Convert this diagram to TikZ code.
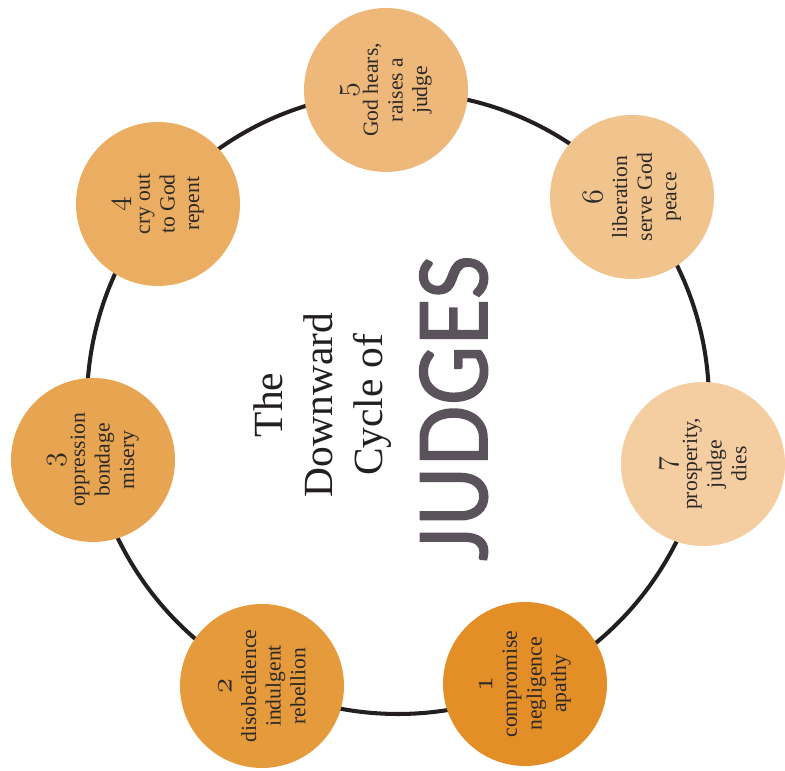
\documentclass[tikz,border=0pt]{standalone}
\usepackage{fontspec}
\setmainfont{Liberation Serif}
\newfontfamily\judgesfont{Lato}[FakeStretch=0.87, FakeBold=1.6]
\usepackage{xcolor}
\definecolor{compromise}{RGB}{227,142,39}
\definecolor{disobedience}{RGB}{229,155,60}
\definecolor{oppression}{RGB}{232,165,81}
\definecolor{cryout}{RGB}{235,173,98}
\definecolor{godhears}{RGB}{238,184,122}
\definecolor{liberation}{RGB}{241,195,141}
\definecolor{prosperity}{RGB}{244,205,160}
\definecolor{ring}{RGB}{35,31,32}
\definecolor{judges}{RGB}{91,83,91}
\definecolor{ink}{RGB}{43,40,40}
\newcommand{\stagenum}[1]{{\fontsize{16}{14}\usefont{OML}{cmm}{m}{it}#1}}
\tikzstyle{stage}=[circle, minimum size=3.28cm, inner sep=0pt, rotate=90, align=center, text=ink, font=\fontsize{12.3}{14}\selectfont]

\begin{document}
\begin{tikzpicture}
  \useasboundingbox (0,0) rectangle (15.7,15.42);
  %% The cycle
  \draw[line width=2.3pt, color=ring] (7.96,7.36) circle (6.22);

  \draw (10.50,1.74) node[stage, fill=compromise] (S1) {\stagenum{1}\\compromise\\negligence\\apathy};
  \draw (5.24,1.70) node[stage, fill=disobedience] (S2) {\stagenum{2}\\disobedience\\indulgent\\rebellion};
  \draw (1.86,6.22) node[stage, fill=oppression] (S3) {\stagenum{3}\\oppression\\bondage\\misery};
  \draw (3.16,11.34) node[stage, fill=cryout] (S4) {\stagenum{4}\\cry out\\to God\\repent};
  \draw (7.72,13.62) node[stage, fill=godhears] (S5) {\stagenum{5}\\God hears,\\raises a\\judge};
  \draw (12.64,11.48) node[stage, fill=liberation] (S6) {\stagenum{6}\\liberation\\serve God\\peace};
  \draw (14.06,6.14) node[stage, fill=prosperity] (S7) {\stagenum{7}\\prosperity,\\judge\\dies};

  %% Title
  \draw (6.45,7.32) node[rotate=90, align=center, text=ring, font=\fontsize{23.6}{28.4}\selectfont] (title) {The\\Downward\\Cycle of};
  \draw (9.74,7.26) node[rotate=90, anchor=base, inner sep=0pt, text=judges, font=\judgesfont\fontsize{53}{53}\selectfont] (judges) {JUDGES};
\end{tikzpicture}
\end{document}
